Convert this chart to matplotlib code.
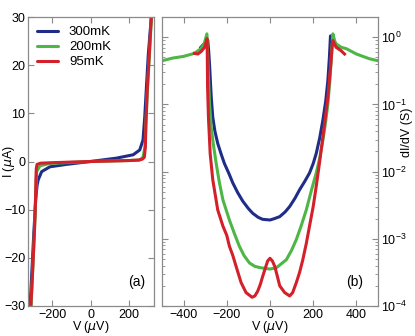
import numpy as np
import matplotlib
matplotlib.use("Agg")
import matplotlib.pyplot as plt
from matplotlib.ticker import LogLocator, NullFormatter, MultipleLocator

plt.rcParams['font.family'] = ['Liberation Sans', 'DejaVu Sans']

# --- Data ---
labels = ["300mK", "200mK", "95mK"]
colors = ["#1f2d87", "#4db646", "#d3202a"]

# (a) I-V curves: V in uV, I in uA
iv_v_300 = [-314, -295, -285, -278, -272, -254, -211, -125, 0, 135, 222, 256, 273, 282, 290, 300, 316]
iv_i_300 = [-30, -15, -8, -5, -3.8, -2.1, -1.1, -0.6, 0, 0.7, 1.4, 2.4, 4.5, 9.3, 15, 22, 30]

iv_v_200 = [-309, -292, -284, -280, -263, -211, 0, 200, 256, 273, 283, 288, 296, 306, 317]
iv_i_200 = [-30, -15, -6, -2.1, -0.9, -0.4, 0, 0.2, 0.3, 0.9, 3, 8, 15, 22, 30]

iv_v_95 = [-310, -300, -290, -286, -284, -282, -278, -260, -200, -100, 0, 100, 200, 250, 270, 280, 285, 288, 295, 305, 316]
iv_i_95 = [-30, -22, -13, -8, -4, -1.5, -0.6, -0.35, -0.25, -0.12, 0, 0.1, 0.2, 0.3, 0.5, 0.9, 3, 8, 15, 22, 30]

# (b) dI/dV curves: V in uV, log10(G / S)
g_v_300 = [-320, -300, -288, -284, -280, -276, -272, -265, -255, -242, -225, -211, -190, -172,
           -150, -126, -100, -80, -55, -34, 0, 20, 45, 70, 91, 115, 137, 160, 183, 200, 214,
           230, 245, 258, 268, 275, 280, 290, 320]
g_log_300 = [-0.15, -0.08, -0.05, -0.2, -0.4, -0.65, -0.89, -1.19, -1.40, -1.58, -1.75, -1.88,
             -2.03, -2.17, -2.31, -2.44, -2.55, -2.62, -2.68, -2.71, -2.72, -2.70, -2.67, -2.60,
             -2.52, -2.40, -2.27, -2.15, -2.02, -1.88, -1.73, -1.50, -1.23, -0.95, -0.64, -0.30,
             0.02, -0.05, -0.15]

g_v_200 = [-500, -450, -400, -350, -320, -305, -292, -286, -280, -272, -262, -249, -235, -218,
           -200, -188, -165, -142, -120, -95, -70, -45, 0, 30, 76, 100, 122, 145, 168, 190, 214,
           230, 245, 258, 268, 277, 283, 291, 300, 306, 330, 353, 400, 460, 500]
g_log_200 = [-0.35, -0.31, -0.285, -0.24, -0.17, -0.10, 0.05, -0.5, -1.0, -1.35, -1.6, -1.88,
             -2.15, -2.42, -2.6, -2.72, -2.92, -3.11, -3.25, -3.36, -3.41, -3.43, -3.45, -3.43,
             -3.31, -3.17, -3.01, -2.80, -2.57, -2.30, -2.02, -1.80, -1.53, -1.25, -0.99, -0.65,
             -0.35, 0.05, -0.06, -0.10, -0.15, -0.17, -0.25, -0.32, -0.35]

g_v_95 = [-350, -334, -318, -303, -291, -289, -285, -277, -265, -242, -218, -200, -188, -172,
          -157, -134, -111, -83, -70, -57, -45, -34, -20, -11, 0, 11, 22, 35, 45, 68, 91, 105,
          122, 137, 152, 168, 183, 200, 214, 230, 245, 258, 268, 276, 283, 288, 291, 306, 329, 345]
g_log_95 = [-0.24, -0.25, -0.21, -0.15, -0.02, -0.74, -1.19, -1.73, -2.12, -2.57, -2.81, -2.95,
            -3.11, -3.25, -3.41, -3.65, -3.80, -3.87, -3.85, -3.78, -3.68, -3.56, -3.42, -3.33,
            -3.29, -3.33, -3.41, -3.57, -3.70, -3.80, -3.85, -3.80, -3.65, -3.50, -3.31, -3.07,
            -2.81, -2.52, -2.22, -1.85, -1.48, -1.15, -0.89, -0.60, -0.35, -0.12, -0.05, -0.15,
            -0.20, -0.25]

iv_v = [iv_v_300, iv_v_200, iv_v_95]
iv_i = [iv_i_300, iv_i_200, iv_i_95]
g_v = [g_v_300, g_v_200, g_v_95]
g_log = [g_log_300, g_log_200, g_log_95]

# --- Plotting ---
fig = plt.figure(figsize=(4.15, 3.36), dpi=100)
W, H = 415.0, 336.0
ax1 = fig.add_axes([28 / W, 30 / H, 126 / W, 289 / H])
ax2 = fig.add_axes([162 / W, 30 / H, 216 / W, 289 / H])

fs = 9
spine_col = "#8a8a8a"

for v, i, c, lab in zip(iv_v, iv_i, colors, labels):
    ax1.plot(v, i, color=c, lw=2.2, label=lab, solid_capstyle="round")
ax1.set_xlim(-325, 330)
ax1.set_ylim(-30, 30)
ax1.xaxis.set_major_locator(MultipleLocator(200))
ax1.yaxis.set_major_locator(MultipleLocator(10))
ax1.set_xlabel("V ($\\mu$V)", fontsize=fs, labelpad=-1)
ax1.set_ylabel("I ($\\mu$A)", fontsize=fs)
ax1.yaxis.set_label_coords(-0.088, 0.5)
ax1.text(0.93, 0.06, "(a)", transform=ax1.transAxes, ha="right", va="bottom", fontsize=10)
leg = ax1.legend(loc="upper left", frameon=False, fontsize=9.5, handlelength=1.6,
                 handletextpad=0.8, labelspacing=0.2, borderaxespad=0.3)

for v, lg, c in zip(g_v, g_log, colors):
    ax2.plot(v, 10 ** np.array(lg), color=c, lw=2.2)
ax2.set_yscale("log")
ax2.set_xlim(-500, 500)
ax2.set_ylim(1e-4, 2)
ax2.xaxis.set_major_locator(MultipleLocator(200))
ax2.yaxis.set_major_locator(LogLocator(base=10, numticks=10))
ax2.yaxis.set_minor_locator(LogLocator(base=10, subs=np.arange(2, 10), numticks=20))
ax2.yaxis.set_minor_formatter(NullFormatter())
ax2.set_xlabel("V ($\\mu$V)", fontsize=fs, labelpad=-1)
ax2.yaxis.set_label_position("right")
ax2.set_ylabel("dI/dV (S)", fontsize=fs)
ax2.yaxis.set_label_coords(1.105, 0.6)
ax2.text(0.93, 0.06, "(b)", transform=ax2.transAxes, ha="right", va="bottom", fontsize=10)

for ax in (ax1, ax2):
    for s in ax.spines.values():
        s.set_color(spine_col)
        s.set_linewidth(0.9)
    ax.tick_params(which="both", direction="in", top=True, right=True, color=spine_col,
                   labelsize=fs, pad=2)
    ax.tick_params(which="major", length=4)
    ax.tick_params(which="minor", length=2)
ax2.tick_params(which="both", labelleft=False, labelright=True)

fig.savefig("out.png", dpi=100)
